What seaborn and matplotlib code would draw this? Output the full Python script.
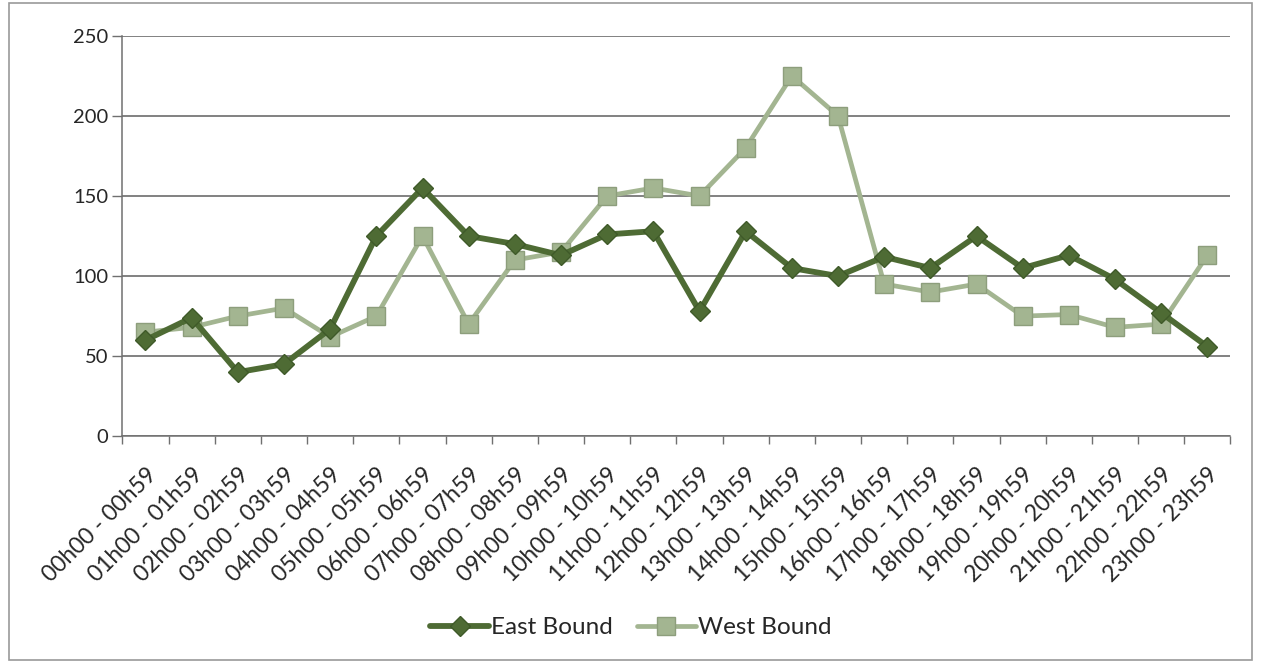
import pandas as pd
import seaborn as sns
import matplotlib.pyplot as plt
from matplotlib.ticker import FixedLocator
from matplotlib.patches import Rectangle

# hourly periods
periods = ['%02dh00 - %02dh59' % (h, h) for h in range(24)]

east_bound = [60, 74, 40, 45, 67, 125, 155, 125, 120, 113, 126, 128,
              78, 128, 105, 100, 112, 105, 125, 105, 113, 98, 77, 56]
west_bound = [65, 68, 75, 80, 62, 75, 125, 70, 110, 115, 150, 155,
              150, 180, 225, 200, 95, 90, 95, 75, 76, 68, 70, 113]

df = pd.DataFrame({
    'period': periods * 2,
    'count': east_bound + west_bound,
    'direction': ['East Bound'] * 24 + ['West Bound'] * 24,
})

sns.set_style('white')
plt.rcParams['font.family'] = ['Lato', 'DejaVu Sans']

fig = plt.figure(figsize=(12.62, 6.63), dpi=100)
ax = fig.add_axes([0.097, 0.342, 0.878, 0.604])

# frame round the whole chart
fig.patches.append(Rectangle((0.007, 0.005), 0.985, 0.99, transform=fig.transFigure,
                             fill=False, edgecolor='#9a9a9a', linewidth=1.2))

colors = {'East Bound': '#4e6b34', 'West Bound': '#a3b591'}
edges = {'East Bound': '#3f5a29', 'West Bound': '#8d9e7c'}
styles = {'East Bound': dict(marker='D', lw=4.2, ms=10),
          'West Bound': dict(marker='s', lw=3.4, ms=13)}

for name in ['West Bound', 'East Bound']:
    sub = df[df['direction'] == name]
    sns.lineplot(data=sub, x='period', y='count', ax=ax, color=colors[name],
                 marker=styles[name]['marker'], markersize=styles[name]['ms'],
                 linewidth=styles[name]['lw'], markeredgecolor=edges[name],
                 markeredgewidth=1, label=name, sort=False,
                 zorder=3 if name == 'East Bound' else 2)

ax.set_xlim(-0.5, 23.5)
ax.set_ylim(0, 250)
ax.set_yticks(range(0, 251, 50))
ax.yaxis.grid(True, color='#5f5f5f', linewidth=1.1)
ax.set_axisbelow(True)

ax.set_xticks(range(24))
ax.set_xticklabels(periods, rotation=45, ha='right', va='top', rotation_mode='anchor', fontsize=16.5)
ax.xaxis.set_minor_locator(FixedLocator([i - 0.5 for i in range(25)]))
ax.tick_params(axis='x', which='major', length=0, pad=20)
ax.tick_params(axis='x', which='minor', length=6, width=1, color='#707070', direction='out', bottom=True)
ax.tick_params(axis='y', length=7, width=1, color='#707070', direction='out', left=True,
               labelsize=14.5, pad=3)

for side in ['top', 'right']:
    ax.spines[side].set_visible(False)
for side in ['left', 'bottom']:
    ax.spines[side].set_color('#707070')
    ax.spines[side].set_linewidth(1.1)

ax.set_xlabel('')
ax.set_ylabel('')

handles, labels = ax.get_legend_handles_labels()
order = [labels.index('East Bound'), labels.index('West Bound')]
ax.legend([handles[i] for i in order], [labels[i] for i in order],
          loc='center', bbox_to_anchor=(0.5, 0.053), bbox_transform=fig.transFigure,
          ncol=2, frameon=False, fontsize=17.5, handlelength=2.4, handletextpad=0.1,
          columnspacing=1.0)

fig.savefig('out.png', dpi=100, facecolor='white')
